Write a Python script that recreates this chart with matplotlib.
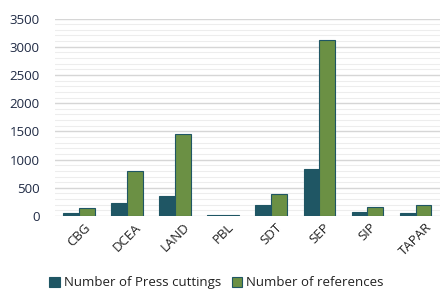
import numpy as np
from matplotlib import pyplot as plt

# categorias y valores
categorias = ["CBG", "DCEA", "LAND", "PBL", "SDT", "SEP", "SIP", "TAPAR"]
press_cuttings = [60, 240, 360, 20, 190, 840, 80, 60]
referencias = [150, 790, 1450, 20, 385, 3120, 155, 200]

c_press = "#1F5664"
c_ref = "#6B9044"
c_txt = "#1F2A44"

plt.rcParams['font.family'] = ['Open Sans', 'DejaVu Sans']

fig = plt.figure(figsize=(4.44, 2.90), dpi=100)
ax = fig.add_axes([0.124, 0.255, 0.866, 0.681])

x = np.arange(len(categorias))
w = 0.33
ax.bar(x - w/2, press_cuttings, w, color=c_press, edgecolor=c_press, lw=0.8,
       label="Number of Press cuttings", zorder=3)
ax.bar(x + w/2, referencias, w, color=c_ref, edgecolor=c_press, lw=0.8,
       label="Number of references", zorder=3)

ax.set_ylim(0, 3500)
ax.set_xlim(-0.5, len(categorias) - 0.5)
ax.set_yticks(np.arange(0, 3501, 500))
ax.set_yticks(np.arange(0, 3501, 100), minor=True)
ax.grid(True, axis='y', which='major', color='#D6D6D6', lw=1.0, zorder=0)
ax.grid(True, axis='y', which='minor', color='#EDEDED', lw=0.8, zorder=0)

for s in ax.spines.values():
    s.set_visible(False)
ax.tick_params(axis='both', which='both', length=0)
ax.tick_params(axis='y', labelsize=9.5, labelcolor=c_txt, pad=11)
ax.set_xticks(x)
ax.set_xticklabels(categorias, rotation=45, fontsize=9.5, color="#222222")

ax.legend(loc='upper center', bbox_to_anchor=(0.42, -0.245), ncol=2, frameon=False,
          fontsize=9.5, handlelength=0.8, handleheight=0.8, handletextpad=0.3,
          columnspacing=0.8, labelcolor="#222222")

fig.savefig("out.png", dpi=100)
